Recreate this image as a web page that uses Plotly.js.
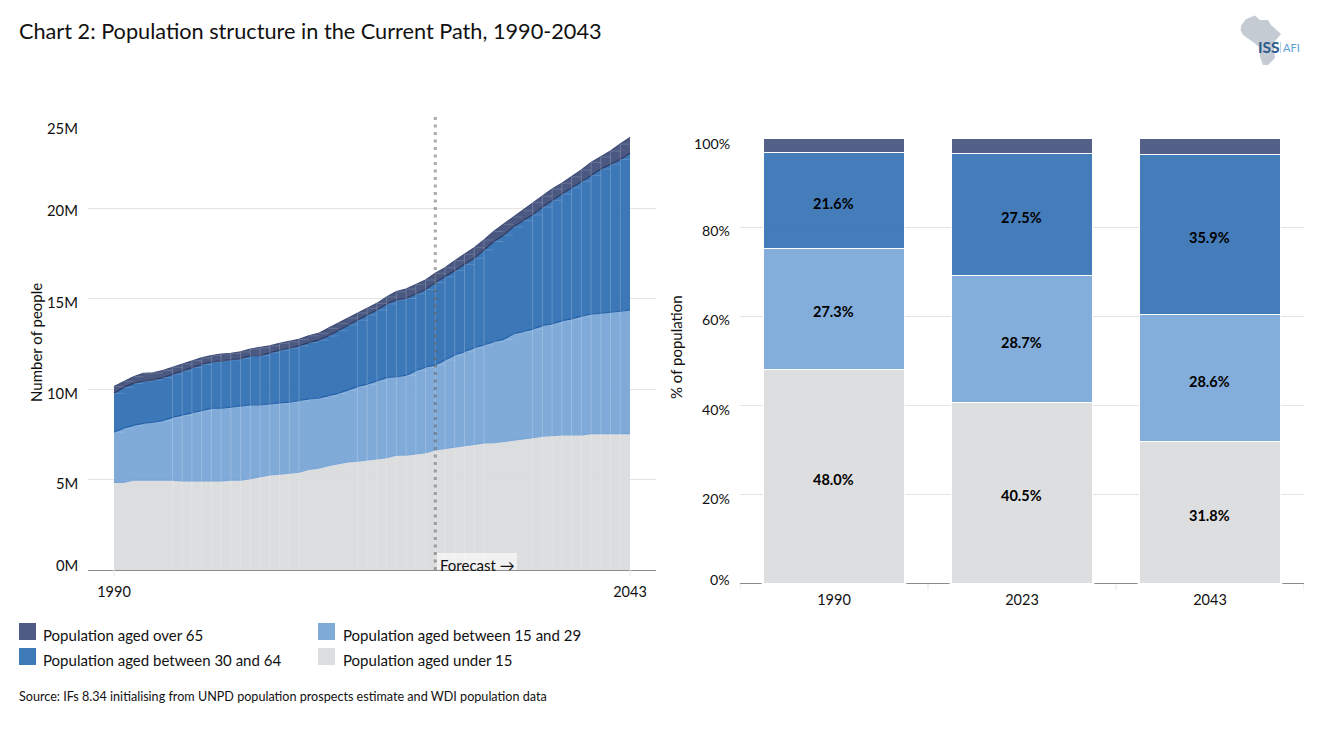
<!DOCTYPE html>
<html>
<head>
<meta charset="utf-8">
<script src="https://cdn.plot.ly/plotly-3.0.1.min.js"></script>
<style>html,body{margin:0;padding:0;background:#fff;overflow:hidden}#c{width:1318px;height:729px}</style>
</head>
<body>
<div id="c"></div>
<script>
const years = [1990,1991,1992,1993,1994,1995,1996,1997,1998,1999,2000,2001,2002,2003,2004,2005,2006,2007,2008,2009,2010,2011,2012,2013,2014,2015,2016,2017,2018,2019,2020,2021,2022,2023,2024,2025,2026,2027,2028,2029,2030,2031,2032,2033,2034,2035,2036,2037,2038,2039,2040,2041,2042,2043];
const under15 = [4.84,4.84,4.97,4.97,4.97,4.97,4.97,4.92,4.92,4.92,4.92,4.92,4.97,4.97,5.05,5.15,5.25,5.29,5.34,5.40,5.56,5.63,5.76,5.86,5.97,6.02,6.08,6.13,6.20,6.35,6.35,6.41,6.48,6.63,6.72,6.81,6.87,6.94,7.02,7.03,7.09,7.16,7.25,7.31,7.39,7.44,7.47,7.47,7.47,7.53,7.53,7.53,7.53,7.53];
const aged15to29 = [2.77,2.99,3.02,3.13,3.19,3.28,3.46,3.63,3.77,3.88,4.01,4.01,4.02,4.09,4.07,3.97,3.92,3.90,3.94,3.95,3.89,3.87,3.85,3.90,3.97,4.11,4.18,4.31,4.43,4.32,4.40,4.60,4.72,4.70,4.88,5.07,5.19,5.34,5.41,5.58,5.65,5.88,5.92,6.00,6.11,6.15,6.29,6.40,6.56,6.60,6.65,6.71,6.78,6.83];
const aged30to64 = [2.15,2.26,2.32,2.34,2.34,2.38,2.38,2.45,2.49,2.56,2.56,2.63,2.61,2.62,2.72,2.72,2.83,2.96,2.97,3.03,3.11,3.20,3.32,3.46,3.60,3.67,3.83,3.92,4.07,4.25,4.25,4.24,4.30,4.56,4.60,4.66,4.83,4.94,5.25,5.54,5.76,5.91,6.13,6.31,6.55,6.84,7.01,7.25,7.45,7.67,7.97,8.18,8.37,8.66];
const over65 = [.37,.33,.37,.43,.39,.39,.39,.38,.38,.36,.35,.37,.37,.37,.37,.44,.38,.37,.36,.36,.38,.37,.42,.41,.38,.40,.37,.37,.38,.46,.52,.53,.52,.50,.50,.55,.55,.59,.55,.55,.60,.55,.55,.68,.60,.62,.60,.60,.62,.72,.67,.73,.85,.88];

const shareYears = ['1990','2023','2043'];
const shareUnder15 = [48.0,40.5,31.8];
const share15to29 = [27.3,28.7,28.6];
const share30to64 = [21.6,27.5,35.9];
const shareOver65 = [3.1,3.3,3.7];

const names = ['Population aged under 15','Population aged between 15 and 29','Population aged between 30 and 64','Population aged over 65'];
const peopleTicks = [0,5,10,15,20,25];
const shareTicks = [0,20,40,60,80,100];
const forecastYear = 2023;
const yearsWithoutDivider = [1990,1991,1992,1993,1994,1995,2010,2011,2012,2013,2014,2029,2030,2031,2032,2043];

const W=1318,H=729,FONT='Lato, Carlito, sans-serif',INK='#111';
const fx=p=>p/W, fy=p=>1-p/H;
const colors=['#dcddde','#80abd9','#3e79b8','#4e5c85'];
const fills=['rgba(217,218,219,0.92)','rgba(118,165,214,0.93)','rgba(50,112,180,0.95)','rgba(64,79,122,0.94)'];
const edges=['#79a6d8','#1f5ea8','#2c3a63','#3f4d78'];
const bands=[under15,aged15to29,aged30to64,over65];
const traces=[];
bands.forEach((v,i)=>{
  traces.push({type:'scatter',mode:'lines',x:years,y:v,name:names[i],stackgroup:'one',fillcolor:fills[i],
    line:{color:edges[i],width:1.2,shape:'linear'},xaxis:'x',yaxis:'y',showlegend:false,hoverinfo:'skip'});
});
const cumulative=[];
bands.forEach((v,k)=>cumulative.push(v.map((d,i)=>d+(k?cumulative[k-1][i]:0))));
const totals=cumulative[3];
const vx=[],vy=[];
years.forEach((y,i)=>{ if(!yearsWithoutDivider.includes(y)){vx.push(y,y,null);vy.push(0,totals[i],null);} });
traces.push({type:'scatter',mode:'lines',x:vx,y:vy,line:{color:'rgba(255,255,255,0.2)',width:1},xaxis:'x',yaxis:'y',showlegend:false,hoverinfo:'skip'});
const hx=[],hy=[];
[cumulative[1],cumulative[2],cumulative[3]].forEach(c=>years.forEach((y,i)=>{ if(i<years.length-1){hx.push(y,years[i+1],null);hy.push(c[i],c[i],null);} }));
traces.push({type:'scatter',mode:'lines',x:hx,y:hy,line:{color:'rgba(255,255,255,0.16)',width:1},xaxis:'x',yaxis:'y',showlegend:false,hoverinfo:'skip'});

const shareBands=[shareUnder15,share15to29,share30to64,shareOver65];
shareBands.forEach((v,i)=>{
  traces.push({type:'bar',x:shareYears,y:v,name:names[i],marker:{color:colors[i],opacity:0.97,line:{color:'#fff',width:1}},
    xaxis:'x2',yaxis:'y2',showlegend:false,hoverinfo:'skip'});
});

const ann=[];
function label(text,x,y,size,anchor,opt){ann.push(Object.assign({xref:'paper',yref:'paper',x:fx(x),y:fy(y),text:text,showarrow:false,xanchor:anchor||'left',yanchor:'middle',
  font:{family:FONT,size:size,color:INK},borderpad:0,align:'left'},opt||{}));}
label('Chart 2: Population structure in the Current Path, 1990-2043',18,31,21.7);
label('Source: IFs 8.34 initialising from UNPD population prospects estimate and WDI population data',18,696.5,12.6);
label('Population aged over 65',42,634.5,15);
label('Population aged between 30 and 64',42,659.5,15);
label('Population aged between 15 and 29',342,634.5,15);
label('Population aged under 15',342,659.5,15);
label('Number of people',36,343,15,'center',{textangle:-90});
label('% of population',676,347,15,'center',{textangle:-90});
const peopleY=[565,483,393,302,210,128];
peopleTicks.forEach((t,i)=>label(t+'M',78.5,peopleY[i],14.8,'right'));
const shareY=[579,498,409,319,230,143];
shareTicks.forEach((t,i)=>label(t+'%',731,shareY[i],14.2,'right'));
label('ISS',1268.5,47.5,15,'center',{font:{family:FONT,size:15.5,color:'#2d5a8c',weight:700}});
label('AFI',1291,47.5,11,'center',{font:{family:FONT,size:11,color:'#5aa0d6'}});
label('Forecast →',439,565,15);
// value labels in the bars, each at the centre of its segment
shareBands.slice(0,3).forEach((v,k)=>v.forEach((d,i)=>{
  const below=shareBands.slice(0,k).reduce((s,b)=>s+b[i],0);
  ann.push({xref:'x2',yref:'y2',x:i,xshift:-1,y:below+d/2,yshift:-3,text:d.toFixed(1)+'%',showarrow:false,
    font:{family:FONT,size:14.5,color:'#000',weight:700}});
}));

const africa=[[1241.5,25],[1246,19],[1255,15.5],[1260,20],[1268,20],[1271,25],[1275,28.5],[1281,34],[1275,41],[1274,50],[1275,58],[1268,65],[1263,65],[1260,57],[1259,47],[1253,42],[1243,35],[1240.5,30]];
const shapes=[
 {type:'path',xref:'paper',yref:'paper',layer:'below',path:'M'+africa.map(p=>fx(p[0])+','+fy(p[1])).join('L')+'Z',fillcolor:'#c5cbd3',line:{width:0}},
 {type:'line',xref:'paper',yref:'paper',x0:fx(1280.5),x1:fx(1280.5),y0:fy(42),y1:fy(53),line:{color:'#bcd3e6',width:1}},
 {type:'rect',xref:'paper',yref:'paper',x0:fx(19),x1:fx(36),y0:fy(623),y1:fy(640),fillcolor:colors[3],line:{width:0}},
 {type:'rect',xref:'paper',yref:'paper',x0:fx(19),x1:fx(36),y0:fy(648),y1:fy(665),fillcolor:colors[2],line:{width:0}},
 {type:'rect',xref:'paper',yref:'paper',x0:fx(318),x1:fx(335),y0:fy(623),y1:fy(640),fillcolor:colors[1],line:{width:0}},
 {type:'rect',xref:'paper',yref:'paper',x0:fx(318),x1:fx(335),y0:fy(648),y1:fy(665),fillcolor:colors[0],line:{width:0}},
 {type:'line',xref:'x',yref:'paper',x0:forecastYear,x1:forecastYear,y0:fy(570),y1:fy(117),layer:'above',line:{color:'rgba(100,100,100,0.55)',width:3,dash:'3px,4.5px'}},
 {type:'rect',xref:'paper',yref:'paper',x0:fx(437),x1:fx(517),y0:fy(570),y1:fy(553),layer:'above',fillcolor:'rgba(255,255,255,0.6)',line:{width:0}}
];
[-0.5,0.5,1.5,2.5].forEach(c=>shapes.push({type:'line',xref:'x2',yref:'paper',x0:c,x1:c,y0:fy(583),y1:fy(590),line:{color:'#e6e6e6',width:1}}));
[1990,2043].forEach(c=>shapes.push({type:'line',xref:'x',yref:'paper',x0:c,x1:c,y0:fy(570),y1:fy(576),line:{color:'#e6e6e6',width:1}}));
// the baseline of the bar chart shows only in the gaps between the bars
[[-0.5,-0.385],[0.385,0.615],[1.385,1.615],[2.385,2.5]].forEach(g=>shapes.push({type:'line',xref:'x2',yref:'paper',x0:g[0],x1:g[1],y0:fy(583.5),y1:fy(583.5),line:{color:'#8c8c8c',width:1}}));

const layout={
  width:W,height:H,margin:{l:0,r:0,t:0,b:0},paper_bgcolor:'#fff',plot_bgcolor:'#fff',showlegend:false,barmode:'stack',bargap:0.253,
  font:{family:FONT,color:INK},
  xaxis:{domain:[fx(88),fx(656)],range:[1987.33,2045.67],tickvals:[1990,2043],ticktext:['1990','2043'],ticks:'outside',ticklen:9,tickcolor:'rgba(0,0,0,0)',
    showgrid:false,zeroline:false,showline:true,linecolor:'#8c8c8c',linewidth:1,tickfont:{family:FONT,size:14.5,color:INK},fixedrange:true},
  yaxis:{domain:[fy(570),fy(117.5)],range:[0,25],tickvals:peopleTicks,showticklabels:false,ticks:'',gridcolor:'#e4e4e4',gridwidth:1,zeroline:false,showline:false,fixedrange:true},
  xaxis2:{domain:[fx(740),fx(1304)],range:[-0.5,2.5],type:'category',anchor:'y2',ticks:'outside',ticklen:4,tickcolor:'rgba(0,0,0,0)',showgrid:false,zeroline:false,
    showline:false,tickfont:{family:FONT,size:14.5,color:INK},fixedrange:true},
  yaxis2:{domain:[fy(583),fy(138.5)],range:[0,100],anchor:'x2',tickvals:shareTicks,showticklabels:false,ticks:'',gridcolor:'#e4e4e4',gridwidth:1,zeroline:false,showline:false,fixedrange:true},
  annotations:ann,shapes:shapes
};
Plotly.newPlot('c',traces,layout,{displayModeBar:false,staticPlot:true});
</script>
</body>
</html>
